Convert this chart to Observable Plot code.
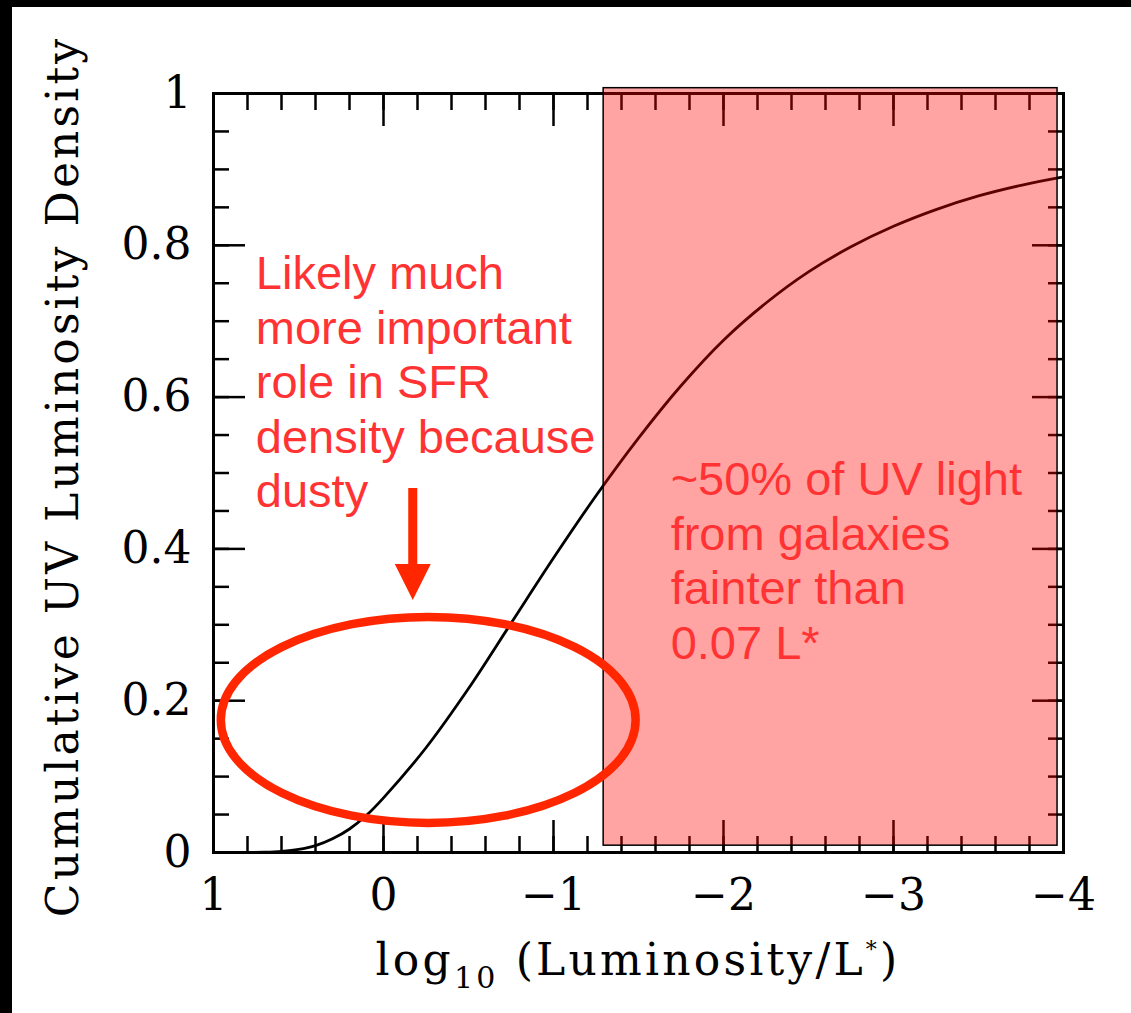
<!DOCTYPE html>
<html><head><meta charset="utf-8">
<script src="https://cdn.jsdelivr.net/npm/d3@7"></script>
<script src="https://cdn.jsdelivr.net/npm/@observablehq/plot@0.6"></script>
<style>
html,body{margin:0;padding:0;background:#fff;}
#wrap{position:relative;width:1131px;height:1013px;overflow:hidden;background:#fff;}
#chart{position:absolute;left:0;top:0;}
#topbar{position:absolute;left:0;top:0;width:1131px;height:7px;background:#000;}
#leftbar{position:absolute;left:0;top:0;width:12px;height:1013px;background:#000;}
</style></head><body>
<div id="wrap"><div id="chart"></div><div id="topbar"></div><div id="leftbar"></div></div>
<script>
// curve: log10(L/L*) vs cumulative UV luminosity density
const logL = [1, 0.8, 0.7, 0.6, 0.5, 0.4, 0.3, 0.2, 0.1, 0, -0.25, -0.5, -0.75, -1, -1.25, -1.5, -1.75, -2, -2.25, -2.5, -2.75, -3, -3.25, -3.5, -3.75, -4];
const cumDensity = [0, 0.0001, 0.0004, 0.0015, 0.004, 0.009, 0.018, 0.031, 0.049, 0.072, 0.138, 0.216, 0.302, 0.388, 0.470, 0.546, 0.615, 0.675, 0.724, 0.765, 0.798, 0.825, 0.847, 0.865, 0.879, 0.89];

// ticks
const xMajorTicks = [1, 0, -1, -2, -3, -4];
const xMinorTicks = d3.range(0, 26).map(i => +(1 - i * 0.2).toFixed(1));
const yMajorTicks = [0, 0.2, 0.4, 0.6, 0.8, 1];
const yMinorTicks = d3.range(0, 21).map(i => +(i * 0.05).toFixed(2));

// annotations (data units)
const shadeX = [-1.295, -3.965];
const shadeY = [0.009, 1.007];
const ellipseCenter = [-0.266, 0.174];
const ellipseRadius = [1.22, 0.1357];
const arrowX = -0.175;
const arrowY = [0.4796, 0.3794, 0.332]; // top, head base, tip
const leftNote = ["Likely much", "more important", "role in SFR", "density because", "dusty"];
const leftNotePos = [0.751, 0.793];
const rightNote = ["~50% of UV light", "from galaxies", "fainter than", "0.07 L*"];
const rightNotePos = [-1.689, 0.522];

const curve = logL.map((x, i) => ({x, y: cumDensity[i]}));
const RED = "#ff2600";
const TEXTRED = "#ff3333";

const W = 1131, H = 1013;
const mL = 213, mR = 68, mT = 93, mB = 161;

function ellipseMark(index, scales) {
  const {x, y} = scales;
  const cx = x(ellipseCenter[0]), cy = y(ellipseCenter[1]);
  const rx = Math.abs(x(ellipseCenter[0] + ellipseRadius[0]) - cx);
  const ry = Math.abs(y(ellipseCenter[1] + ellipseRadius[1]) - cy);
  const g = d3.create("svg:g");
  g.append("ellipse").attr("cx", cx).attr("cy", cy).attr("rx", rx).attr("ry", ry)
    .attr("fill", "none").attr("stroke", RED).attr("stroke-width", 8.5);
  return g.node();
}
function arrowMark(index, scales) {
  const {x, y} = scales;
  const ax = x(arrowX), y0 = y(arrowY[0]), y1 = y(arrowY[1]), y2 = y(arrowY[2]);
  const sw = 4.5, hw = 18;
  const p = `M${ax - sw},${y0}L${ax + sw},${y0}L${ax + sw},${y1}L${ax + hw},${y1}L${ax},${y2}L${ax - hw},${y1}L${ax - sw},${y1}Z`;
  const g = d3.create("svg:g");
  g.append("path").attr("d", p).attr("fill", RED);
  return g.node();
}
function axisTitles(index, scales, values, dims) {
  const g = d3.create("svg:g").attr("font-family", "'DejaVu Serif', serif").attr("fill", "#000");
  const cxp = (dims.marginLeft + dims.width - dims.marginRight) / 2;
  const cyp = (dims.marginTop + dims.height - dims.marginBottom) / 2;
  const xt = g.append("text").attr("x", cxp).attr("y", dims.height - dims.marginBottom + 123)
    .attr("text-anchor", "middle").attr("font-size", 44).attr("letter-spacing", 3.2);
  xt.append("tspan").text("log");
  xt.append("tspan").attr("font-size", 30).attr("dy", 13).text("10");
  xt.append("tspan").attr("dy", -13).text(" (Luminosity/L");
  xt.append("tspan").attr("font-size", 22).attr("dy", -18).text("*");
  xt.append("tspan").attr("dy", 18).text(")");
  g.append("text").attr("transform", `translate(78,${cyp + 4}) rotate(-90)`)
    .attr("text-anchor", "middle").attr("font-size", 44).attr("letter-spacing", 3.1)
    .text("Cumulative UV Luminosity Density");
  return g.node();
}

const tickW = 2.5;
const noText = () => "";
const chart = Plot.plot({
  width: W, height: H,
  marginLeft: mL, marginRight: mR, marginTop: mT, marginBottom: mB,
  style: {fontFamily: "'DejaVu Serif', serif", background: "transparent", overflow: "visible"},
  x: {domain: [1, -4]},
  y: {domain: [0, 1]},
  marks: [
    // inward ticks, all four sides
    Plot.axisX(xMinorTicks, {anchor: "bottom", tickSize: -16, tickFormat: noText, label: null, strokeWidth: tickW}),
    Plot.axisX(xMajorTicks, {anchor: "bottom", tickSize: -32, tickFormat: noText, label: null, strokeWidth: tickW}),
    Plot.axisX(xMinorTicks, {anchor: "top", tickSize: -16, tickFormat: noText, label: null, strokeWidth: tickW}),
    Plot.axisX(xMajorTicks, {anchor: "top", tickSize: -32, tickFormat: noText, label: null, strokeWidth: tickW}),
    Plot.axisY(yMinorTicks, {anchor: "left", tickSize: -16, tickFormat: noText, label: null, strokeWidth: tickW}),
    Plot.axisY(yMajorTicks, {anchor: "left", tickSize: -32, tickFormat: noText, label: null, strokeWidth: tickW}),
    Plot.axisY(yMinorTicks, {anchor: "right", tickSize: -16, tickFormat: noText, label: null, strokeWidth: tickW}),
    Plot.axisY(yMajorTicks, {anchor: "right", tickSize: -32, tickFormat: noText, label: null, strokeWidth: tickW}),
    // tick labels
    Plot.axisX(xMajorTicks, {anchor: "bottom", tickSize: 0, tickPadding: 26, fontSize: 44, label: null, tickFormat: d => (d < 0 ? "\u2212" + (-d) : String(d))}),
    Plot.axisY(yMajorTicks, {anchor: "left", tickSize: 0, tickPadding: 22, fontSize: 44, label: null, tickFormat: d => String(d)}),
    Plot.frame({stroke: "#000", strokeWidth: 3}),
    Plot.line(curve, {x: "x", y: "y", stroke: "#000", strokeWidth: 2.8, curve: "catmull-rom"}),
    Plot.rect([{x1: shadeX[0], x2: shadeX[1], y1: shadeY[0], y2: shadeY[1]}],
      {x1: "x1", x2: "x2", y1: "y1", y2: "y2", fill: "#ff0000", fillOpacity: 0.36, stroke: "#000", strokeWidth: 1.5}),
    ellipseMark,
    arrowMark,
    Plot.text([leftNote.join("\n")], {x: leftNotePos[0], y: leftNotePos[1], text: d => d, textAnchor: "start", lineAnchor: "top",
      fontSize: 47, lineHeight: 1.16, fill: TEXTRED, fontFamily: "'Liberation Sans', Arial, sans-serif"}),
    Plot.text([rightNote.join("\n")], {x: rightNotePos[0], y: rightNotePos[1], text: d => d, textAnchor: "start", lineAnchor: "top",
      fontSize: 47, lineHeight: 1.16, fill: TEXTRED, fontFamily: "'Liberation Sans', Arial, sans-serif"}),
    axisTitles
  ]
});
document.getElementById("chart").appendChild(chart);
</script>
</body></html>
